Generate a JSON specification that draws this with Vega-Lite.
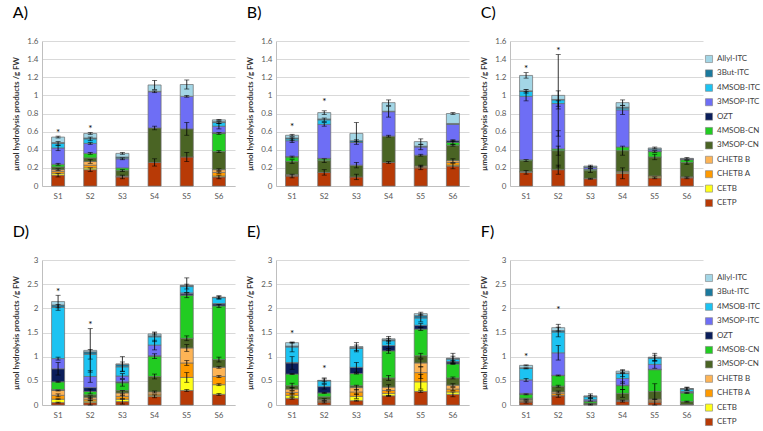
{
"$schema": "https://vega.github.io/schema/vega-lite/v6.json",
"padding": {"left": 12, "top": 5, "right": 2, "bottom": 2},
"spacing": 16,
"config": {
 "font": "Lato",
 "concat": {"spacing": 16},
 "view": {"stroke": null},
 "axis": {"labelFontSize": 8, "labelColor": "#595959", "ticks": false, "domainColor": "#BFBFBF", "gridColor": "#D9D9D9", "titleFontSize": 8, "titleColor": "#333333", "labelFont": "Lato", "titleFont": "Lato", "labelOverlap": false},
 "axisX": {"grid": false, "labelAngle": 0, "labelPadding": 6},
 "axisY": {"grid": true, "labelPadding": 4, "titleFontWeight": "bold", "titlePadding": 6, "format": ".1~f"},
 "title": {"fontSize": 16, "font": "Lato", "fontWeight": "normal", "anchor": "start", "offset": 16, "color": "#000000"},
 "legend": {"labelFontSize": 8, "labelColor": "#404040", "labelFont": "Lato", "symbolType": "square", "symbolSize": 50, "symbolStrokeColor": "#7f7f7f", "symbolStrokeWidth": 0.6, "rowPadding": 4.4, "offset": 2, "padding": 0, "titleFontSize": 10, "titlePadding": 4}
},
"datasets": {
 "cmp": [
  {"c":"CETP","k":0},{"c":"CETB","k":1},{"c":"CHETB A","k":2},{"c":"CHETB B","k":3},{"c":"3MSOP-CN","k":4},{"c":"4MSOB-CN","k":5},{"c":"OZT","k":6},{"c":"3MSOP-ITC","k":7},{"c":"4MSOB-ITC","k":8},{"c":"3But-ITC","k":9},{"c":"Allyl-ITC","k":10}
 ],
 "ast": [
  {"p":"A","s":"S1","y":0.58},{"p":"A","s":"S2","y":0.63},
  {"p":"B","s":"S1","y":0.65},{"p":"B","s":"S2","y":0.93},
  {"p":"C","s":"S1","y":1.29},{"p":"C","s":"S2","y":1.49},
  {"p":"D","s":"S1","y":2.33},{"p":"D","s":"S2","y":1.65},
  {"p":"E","s":"S1","y":1.47},{"p":"E","s":"S2","y":0.74},
  {"p":"F","s":"S1","y":1.0},{"p":"F","s":"S2","y":1.97}
 ],
 "bars": [
  {"p":"A","s":"S1","c":"CETP","v":0.12,"e":0.02},
  {"p":"A","s":"S1","c":"CETB","v":0.02},
  {"p":"A","s":"S1","c":"CHETB A","v":0.02},
  {"p":"A","s":"S1","c":"CHETB B","v":0.02,"e":0.01},
  {"p":"A","s":"S1","c":"3MSOP-CN","v":0.03},
  {"p":"A","s":"S1","c":"4MSOB-CN","v":0.03,"e":0.01},
  {"p":"A","s":"S1","c":"3MSOP-ITC","v":0.18,"e":0.03},
  {"p":"A","s":"S1","c":"4MSOB-ITC","v":0.05,"e":0.02},
  {"p":"A","s":"S1","c":"3But-ITC","v":0.01},
  {"p":"A","s":"S1","c":"Allyl-ITC","v":0.06,"e":0.01},
  {"p":"A","s":"S2","c":"CETP","v":0.18,"e":0.02},
  {"p":"A","s":"S2","c":"CETB","v":0.02},
  {"p":"A","s":"S2","c":"CHETB A","v":0.03},
  {"p":"A","s":"S2","c":"CHETB B","v":0.04,"e":0.02},
  {"p":"A","s":"S2","c":"3MSOP-CN","v":0.04},
  {"p":"A","s":"S2","c":"4MSOB-CN","v":0.05,"e":0.01},
  {"p":"A","s":"S2","c":"3MSOP-ITC","v":0.11,"e":0.01},
  {"p":"A","s":"S2","c":"4MSOB-ITC","v":0.05,"e":0.02},
  {"p":"A","s":"S2","c":"3But-ITC","v":0.01},
  {"p":"A","s":"S2","c":"Allyl-ITC","v":0.05,"e":0.01},
  {"p":"A","s":"S3","c":"CETP","v":0.10,"e":0.02},
  {"p":"A","s":"S3","c":"CHETB A","v":0.005},
  {"p":"A","s":"S3","c":"CHETB B","v":0.005},
  {"p":"A","s":"S3","c":"3MSOP-CN","v":0.06,"e":0.01},
  {"p":"A","s":"S3","c":"4MSOB-CN","v":0.03},
  {"p":"A","s":"S3","c":"3MSOP-ITC","v":0.10,"e":0.01},
  {"p":"A","s":"S3","c":"4MSOB-ITC","v":0.01},
  {"p":"A","s":"S3","c":"3But-ITC","v":0.01},
  {"p":"A","s":"S3","c":"Allyl-ITC","v":0.04,"e":0.01},
  {"p":"A","s":"S4","c":"CETP","v":0.26,"e":0.04},
  {"p":"A","s":"S4","c":"3MSOP-CN","v":0.38,"e":0.02},
  {"p":"A","s":"S4","c":"3MSOP-ITC","v":0.40,"e":0.01},
  {"p":"A","s":"S4","c":"3But-ITC","v":0.005},
  {"p":"A","s":"S4","c":"Allyl-ITC","v":0.07,"e":0.05},
  {"p":"A","s":"S5","c":"CETP","v":0.32,"e":0.05},
  {"p":"A","s":"S5","c":"3MSOP-CN","v":0.31,"e":0.07},
  {"p":"A","s":"S5","c":"3MSOP-ITC","v":0.36,"e":0.01},
  {"p":"A","s":"S5","c":"Allyl-ITC","v":0.13,"e":0.05},
  {"p":"A","s":"S6","c":"CETP","v":0.10,"e":0.02},
  {"p":"A","s":"S6","c":"CETB","v":0.01},
  {"p":"A","s":"S6","c":"CHETB A","v":0.04,"e":0.01},
  {"p":"A","s":"S6","c":"CHETB B","v":0.03,"e":0.01},
  {"p":"A","s":"S6","c":"3MSOP-CN","v":0.20,"e":0.01},
  {"p":"A","s":"S6","c":"4MSOB-CN","v":0.20,"e":0.01},
  {"p":"A","s":"S6","c":"OZT","v":0.01},
  {"p":"A","s":"S6","c":"3MSOP-ITC","v":0.07,"e":0.03},
  {"p":"A","s":"S6","c":"4MSOB-ITC","v":0.04,"e":0.01},
  {"p":"A","s":"S6","c":"3But-ITC","v":0.01},
  {"p":"A","s":"S6","c":"Allyl-ITC","v":0.02,"e":0.005},

  {"p":"B","s":"S1","c":"CETP","v":0.11,"e":0.02},
  {"p":"B","s":"S1","c":"CETB","v":0.005},
  {"p":"B","s":"S1","c":"CHETB A","v":0.005},
  {"p":"B","s":"S1","c":"CHETB B","v":0.005},
  {"p":"B","s":"S1","c":"3MSOP-CN","v":0.145,"e":0.02},
  {"p":"B","s":"S1","c":"4MSOB-CN","v":0.05,"e":0.01},
  {"p":"B","s":"S1","c":"OZT","v":0.005},
  {"p":"B","s":"S1","c":"3MSOP-ITC","v":0.175,"e":0.02},
  {"p":"B","s":"S1","c":"4MSOB-ITC","v":0.02,"e":0.02},
  {"p":"B","s":"S1","c":"3But-ITC","v":0.01},
  {"p":"B","s":"S1","c":"Allyl-ITC","v":0.03,"e":0.01},
  {"p":"B","s":"S2","c":"CETP","v":0.15,"e":0.03},
  {"p":"B","s":"S2","c":"3MSOP-CN","v":0.13,"e":0.02},
  {"p":"B","s":"S2","c":"4MSOB-CN","v":0.02},
  {"p":"B","s":"S2","c":"OZT","v":0.005},
  {"p":"B","s":"S2","c":"3MSOP-ITC","v":0.375,"e":0.02},
  {"p":"B","s":"S2","c":"4MSOB-ITC","v":0.05,"e":0.02},
  {"p":"B","s":"S2","c":"3But-ITC","v":0.01},
  {"p":"B","s":"S2","c":"Allyl-ITC","v":0.07,"e":0.02},
  {"p":"B","s":"S3","c":"CETP","v":0.10,"e":0.03},
  {"p":"B","s":"S3","c":"3MSOP-CN","v":0.13,"e":0.03},
  {"p":"B","s":"S3","c":"3MSOP-ITC","v":0.25},
  {"p":"B","s":"S3","c":"3But-ITC","v":0.02,"e":0.01},
  {"p":"B","s":"S3","c":"Allyl-ITC","v":0.08,"e":0.12},
  {"p":"B","s":"S4","c":"CETP","v":0.26,"e":0.01},
  {"p":"B","s":"S4","c":"3MSOP-CN","v":0.29,"e":0.01},
  {"p":"B","s":"S4","c":"3MSOP-ITC","v":0.27,"e":0.06},
  {"p":"B","s":"S4","c":"3But-ITC","v":0.005},
  {"p":"B","s":"S4","c":"Allyl-ITC","v":0.095,"e":0.03},
  {"p":"B","s":"S5","c":"CETP","v":0.20,"e":0.02},
  {"p":"B","s":"S5","c":"CHETB A","v":0.01},
  {"p":"B","s":"S5","c":"CHETB B","v":0.01,"e":0.01},
  {"p":"B","s":"S5","c":"3MSOP-CN","v":0.12,"e":0.01},
  {"p":"B","s":"S5","c":"3MSOP-ITC","v":0.09,"e":0.03},
  {"p":"B","s":"S5","c":"3But-ITC","v":0.01},
  {"p":"B","s":"S5","c":"Allyl-ITC","v":0.05,"e":0.03},
  {"p":"B","s":"S6","c":"CETP","v":0.22,"e":0.03},
  {"p":"B","s":"S6","c":"CETB","v":0.01},
  {"p":"B","s":"S6","c":"CHETB A","v":0.03},
  {"p":"B","s":"S6","c":"CHETB B","v":0.02,"e":0.02},
  {"p":"B","s":"S6","c":"3MSOP-CN","v":0.17,"e":0.01},
  {"p":"B","s":"S6","c":"4MSOB-CN","v":0.03,"e":0.02},
  {"p":"B","s":"S6","c":"OZT","v":0.02,"e":0.01},
  {"p":"B","s":"S6","c":"3MSOP-ITC","v":0.18},
  {"p":"B","s":"S6","c":"3But-ITC","v":0.01},
  {"p":"B","s":"S6","c":"Allyl-ITC","v":0.11,"e":0.01},

  {"p":"C","s":"S1","c":"CETP","v":0.15,"e":0.02},
  {"p":"C","s":"S1","c":"CETB","v":0.005},
  {"p":"C","s":"S1","c":"CHETB A","v":0.005},
  {"p":"C","s":"S1","c":"3MSOP-CN","v":0.12,"e":0.01},
  {"p":"C","s":"S1","c":"4MSOB-CN","v":0.01},
  {"p":"C","s":"S1","c":"3MSOP-ITC","v":0.70,"e":0.05},
  {"p":"C","s":"S1","c":"4MSOB-ITC","v":0.055,"e":0.02},
  {"p":"C","s":"S1","c":"3But-ITC","v":0.005},
  {"p":"C","s":"S1","c":"Allyl-ITC","v":0.17,"e":0.03},
  {"p":"C","s":"S2","c":"CETP","v":0.18,"e":0.05},
  {"p":"C","s":"S2","c":"3MSOP-CN","v":0.21,"e":0.05},
  {"p":"C","s":"S2","c":"4MSOB-CN","v":0.02,"e":0.2},
  {"p":"C","s":"S2","c":"3MSOP-ITC","v":0.50,"e":0.03},
  {"p":"C","s":"S2","c":"4MSOB-ITC","v":0.04,"e":0.1},
  {"p":"C","s":"S2","c":"3But-ITC","v":0.005},
  {"p":"C","s":"S2","c":"Allyl-ITC","v":0.045,"e":0.45},
  {"p":"C","s":"S3","c":"CETP","v":0.08,"e":0.005},
  {"p":"C","s":"S3","c":"CETB","v":0.005},
  {"p":"C","s":"S3","c":"3MSOP-CN","v":0.085,"e":0.02},
  {"p":"C","s":"S3","c":"4MSOB-CN","v":0.015},
  {"p":"C","s":"S3","c":"3MSOP-ITC","v":0.02,"e":0.01},
  {"p":"C","s":"S3","c":"4MSOB-ITC","v":0.005},
  {"p":"C","s":"S3","c":"Allyl-ITC","v":0.01,"e":0.01},
  {"p":"C","s":"S4","c":"CETP","v":0.14,"e":0.06},
  {"p":"C","s":"S4","c":"CETB","v":0.01},
  {"p":"C","s":"S4","c":"CHETB A","v":0.01},
  {"p":"C","s":"S4","c":"3MSOP-CN","v":0.23,"e":0.05},
  {"p":"C","s":"S4","c":"4MSOB-CN","v":0.04},
  {"p":"C","s":"S4","c":"3MSOP-ITC","v":0.41,"e":0.05},
  {"p":"C","s":"S4","c":"4MSOB-ITC","v":0.02},
  {"p":"C","s":"S4","c":"3But-ITC","v":0.01},
  {"p":"C","s":"S4","c":"Allyl-ITC","v":0.05,"e":0.03},
  {"p":"C","s":"S5","c":"CETP","v":0.09,"e":0.01},
  {"p":"C","s":"S5","c":"CETB","v":0.01},
  {"p":"C","s":"S5","c":"CHETB A","v":0.01},
  {"p":"C","s":"S5","c":"3MSOP-CN","v":0.21,"e":0.03},
  {"p":"C","s":"S5","c":"4MSOB-CN","v":0.06,"e":0.01},
  {"p":"C","s":"S5","c":"OZT","v":0.005},
  {"p":"C","s":"S5","c":"3MSOP-ITC","v":0.015},
  {"p":"C","s":"S5","c":"4MSOB-ITC","v":0.01},
  {"p":"C","s":"S5","c":"Allyl-ITC","v":0.01,"e":0.01},
  {"p":"C","s":"S6","c":"CETP","v":0.09,"e":0.01},
  {"p":"C","s":"S6","c":"CETB","v":0.005},
  {"p":"C","s":"S6","c":"CHETB A","v":0.005},
  {"p":"C","s":"S6","c":"3MSOP-CN","v":0.16,"e":0.02},
  {"p":"C","s":"S6","c":"4MSOB-CN","v":0.03},
  {"p":"C","s":"S6","c":"OZT","v":0.005},
  {"p":"C","s":"S6","c":"3MSOP-ITC","v":0.005},
  {"p":"C","s":"S6","c":"Allyl-ITC","v":0.005,"e":0.01},

  {"p":"D","s":"S1","c":"CETP","v":0.05,"e":0.01},
  {"p":"D","s":"S1","c":"CETB","v":0.07,"e":0.01},
  {"p":"D","s":"S1","c":"CHETB A","v":0.08,"e":0.03},
  {"p":"D","s":"S1","c":"CHETB B","v":0.10,"e":0.01},
  {"p":"D","s":"S1","c":"3MSOP-CN","v":0.02},
  {"p":"D","s":"S1","c":"4MSOB-CN","v":0.16,"e":0.01},
  {"p":"D","s":"S1","c":"OZT","v":0.27,"e":0.13},
  {"p":"D","s":"S1","c":"3MSOP-ITC","v":0.21,"e":0.03},
  {"p":"D","s":"S1","c":"4MSOB-ITC","v":1.06,"e":0.06},
  {"p":"D","s":"S1","c":"3But-ITC","v":0.05},
  {"p":"D","s":"S1","c":"Allyl-ITC","v":0.07,"e":0.13},
  {"p":"D","s":"S2","c":"CETP","v":0.05,"e":0.05},
  {"p":"D","s":"S2","c":"CETB","v":0.03},
  {"p":"D","s":"S2","c":"CHETB A","v":0.04,"e":0.03},
  {"p":"D","s":"S2","c":"CHETB B","v":0.04,"e":0.03},
  {"p":"D","s":"S2","c":"3MSOP-CN","v":0.05},
  {"p":"D","s":"S2","c":"4MSOB-CN","v":0.07,"e":0.05},
  {"p":"D","s":"S2","c":"OZT","v":0.08},
  {"p":"D","s":"S2","c":"3MSOP-ITC","v":0.23,"e":0.12},
  {"p":"D","s":"S2","c":"4MSOB-ITC","v":0.46,"e":0.1},
  {"p":"D","s":"S2","c":"3But-ITC","v":0.05},
  {"p":"D","s":"S2","c":"Allyl-ITC","v":0.03,"e":0.45},
  {"p":"D","s":"S3","c":"CETP","v":0.07,"e":0.05},
  {"p":"D","s":"S3","c":"CETB","v":0.05},
  {"p":"D","s":"S3","c":"CHETB A","v":0.06,"e":0.05},
  {"p":"D","s":"S3","c":"CHETB B","v":0.07,"e":0.05},
  {"p":"D","s":"S3","c":"3MSOP-CN","v":0.05},
  {"p":"D","s":"S3","c":"4MSOB-CN","v":0.16,"e":0.07},
  {"p":"D","s":"S3","c":"OZT","v":0.02},
  {"p":"D","s":"S3","c":"3MSOP-ITC","v":0.12,"e":0.05},
  {"p":"D","s":"S3","c":"4MSOB-ITC","v":0.19,"e":0.1},
  {"p":"D","s":"S3","c":"3But-ITC","v":0.05},
  {"p":"D","s":"S3","c":"Allyl-ITC","v":0.01,"e":0.15},
  {"p":"D","s":"S4","c":"CETP","v":0.18,"e":0.03},
  {"p":"D","s":"S4","c":"CETB","v":0.02},
  {"p":"D","s":"S4","c":"CHETB A","v":0.03},
  {"p":"D","s":"S4","c":"CHETB B","v":0.04,"e":0.02},
  {"p":"D","s":"S4","c":"3MSOP-CN","v":0.32,"e":0.05},
  {"p":"D","s":"S4","c":"4MSOB-CN","v":0.42,"e":0.05},
  {"p":"D","s":"S4","c":"OZT","v":0.01},
  {"p":"D","s":"S4","c":"3MSOP-ITC","v":0.22,"e":0.1},
  {"p":"D","s":"S4","c":"4MSOB-ITC","v":0.17,"e":0.1},
  {"p":"D","s":"S4","c":"3But-ITC","v":0.02},
  {"p":"D","s":"S4","c":"Allyl-ITC","v":0.04,"e":0.02},
  {"p":"D","s":"S5","c":"CETP","v":0.30,"e":0.02},
  {"p":"D","s":"S5","c":"CETB","v":0.27,"e":0.1},
  {"p":"D","s":"S5","c":"CHETB A","v":0.30,"e":0.05},
  {"p":"D","s":"S5","c":"CHETB B","v":0.31,"e":0.07},
  {"p":"D","s":"S5","c":"3MSOP-CN","v":0.20,"e":0.05},
  {"p":"D","s":"S5","c":"4MSOB-CN","v":0.89,"e":0.05},
  {"p":"D","s":"S5","c":"OZT","v":0.03},
  {"p":"D","s":"S5","c":"3MSOP-ITC","v":0.02},
  {"p":"D","s":"S5","c":"4MSOB-ITC","v":0.13,"e":0.05},
  {"p":"D","s":"S5","c":"3But-ITC","v":0.02},
  {"p":"D","s":"S5","c":"Allyl-ITC","v":0.01,"e":0.15},
  {"p":"D","s":"S6","c":"CETP","v":0.22,"e":0.02},
  {"p":"D","s":"S6","c":"CETB","v":0.20,"e":0.02},
  {"p":"D","s":"S6","c":"CHETB A","v":0.17,"e":0.02},
  {"p":"D","s":"S6","c":"CHETB B","v":0.19,"e":0.02},
  {"p":"D","s":"S6","c":"3MSOP-CN","v":0.16,"e":0.05},
  {"p":"D","s":"S6","c":"4MSOB-CN","v":1.11,"e":0.03},
  {"p":"D","s":"S6","c":"OZT","v":0.04},
  {"p":"D","s":"S6","c":"3MSOP-ITC","v":0.01},
  {"p":"D","s":"S6","c":"4MSOB-ITC","v":0.12,"e":0.03},
  {"p":"D","s":"S6","c":"3But-ITC","v":0.005},
  {"p":"D","s":"S6","c":"Allyl-ITC","v":0.005,"e":0.03},

  {"p":"E","s":"S1","c":"CETP","v":0.14,"e":0.02},
  {"p":"E","s":"S1","c":"CETB","v":0.06,"e":0.03},
  {"p":"E","s":"S1","c":"CHETB A","v":0.06,"e":0.03},
  {"p":"E","s":"S1","c":"CHETB B","v":0.07,"e":0.03},
  {"p":"E","s":"S1","c":"3MSOP-CN","v":0.07,"e":0.05},
  {"p":"E","s":"S1","c":"4MSOB-CN","v":0.24,"e":0.01},
  {"p":"E","s":"S1","c":"OZT","v":0.23,"e":0.13},
  {"p":"E","s":"S1","c":"3MSOP-ITC","v":0.01},
  {"p":"E","s":"S1","c":"4MSOB-ITC","v":0.32,"e":0.1},
  {"p":"E","s":"S1","c":"3But-ITC","v":0.02},
  {"p":"E","s":"S1","c":"Allyl-ITC","v":0.07,"e":0.01},
  {"p":"E","s":"S2","c":"CETP","v":0.06,"e":0.02},
  {"p":"E","s":"S2","c":"CETB","v":0.01},
  {"p":"E","s":"S2","c":"CHETB A","v":0.02},
  {"p":"E","s":"S2","c":"CHETB B","v":0.02,"e":0.02},
  {"p":"E","s":"S2","c":"3MSOP-CN","v":0.06},
  {"p":"E","s":"S2","c":"4MSOB-CN","v":0.08,"e":0.01},
  {"p":"E","s":"S2","c":"OZT","v":0.13,"e":0.05},
  {"p":"E","s":"S2","c":"4MSOB-ITC","v":0.12,"e":0.06},
  {"p":"E","s":"S2","c":"3But-ITC","v":0.005},
  {"p":"E","s":"S2","c":"Allyl-ITC","v":0.005,"e":0.03},
  {"p":"E","s":"S3","c":"CETP","v":0.09,"e":0.01},
  {"p":"E","s":"S3","c":"CETB","v":0.09,"e":0.05},
  {"p":"E","s":"S3","c":"CHETB A","v":0.09,"e":0.05},
  {"p":"E","s":"S3","c":"CHETB B","v":0.09,"e":0.05},
  {"p":"E","s":"S3","c":"3MSOP-CN","v":0.04},
  {"p":"E","s":"S3","c":"4MSOB-CN","v":0.25,"e":0.01},
  {"p":"E","s":"S3","c":"OZT","v":0.13,"e":0.1},
  {"p":"E","s":"S3","c":"4MSOB-ITC","v":0.39,"e":0.07},
  {"p":"E","s":"S3","c":"3But-ITC","v":0.02},
  {"p":"E","s":"S3","c":"Allyl-ITC","v":0.02,"e":0.08},
  {"p":"E","s":"S4","c":"CETP","v":0.19,"e":0.01},
  {"p":"E","s":"S4","c":"CETB","v":0.05,"e":0.05},
  {"p":"E","s":"S4","c":"CHETB A","v":0.06},
  {"p":"E","s":"S4","c":"CHETB B","v":0.07,"e":0.05},
  {"p":"E","s":"S4","c":"3MSOP-CN","v":0.19,"e":0.05},
  {"p":"E","s":"S4","c":"4MSOB-CN","v":0.56,"e":0.05},
  {"p":"E","s":"S4","c":"OZT","v":0.11,"e":0.1},
  {"p":"E","s":"S4","c":"4MSOB-ITC","v":0.10,"e":0.05},
  {"p":"E","s":"S4","c":"3But-ITC","v":0.02},
  {"p":"E","s":"S4","c":"Allyl-ITC","v":0.02,"e":0.05},
  {"p":"E","s":"S5","c":"CETP","v":0.28,"e":0.02},
  {"p":"E","s":"S5","c":"CETB","v":0.20,"e":0.15},
  {"p":"E","s":"S5","c":"CHETB A","v":0.19,"e":0.12},
  {"p":"E","s":"S5","c":"CHETB B","v":0.20,"e":0.08},
  {"p":"E","s":"S5","c":"3MSOP-CN","v":0.15,"e":0.05},
  {"p":"E","s":"S5","c":"4MSOB-CN","v":0.55,"e":0.03},
  {"p":"E","s":"S5","c":"OZT","v":0.08,"e":0.04},
  {"p":"E","s":"S5","c":"4MSOB-ITC","v":0.15,"e":0.08},
  {"p":"E","s":"S5","c":"3But-ITC","v":0.05},
  {"p":"E","s":"S5","c":"Allyl-ITC","v":0.04,"e":0.03},
  {"p":"E","s":"S6","c":"CETP","v":0.22,"e":0.05},
  {"p":"E","s":"S6","c":"CETB","v":0.05},
  {"p":"E","s":"S6","c":"CHETB A","v":0.06,"e":0.03},
  {"p":"E","s":"S6","c":"CHETB B","v":0.08,"e":0.03},
  {"p":"E","s":"S6","c":"3MSOP-CN","v":0.15,"e":0.02},
  {"p":"E","s":"S6","c":"4MSOB-CN","v":0.29,"e":0.01},
  {"p":"E","s":"S6","c":"OZT","v":0.04,"e":0.03},
  {"p":"E","s":"S6","c":"3MSOP-ITC","v":0.01},
  {"p":"E","s":"S6","c":"4MSOB-ITC","v":0.05,"e":0.06},
  {"p":"E","s":"S6","c":"3But-ITC","v":0.01},
  {"p":"E","s":"S6","c":"Allyl-ITC","v":0.01,"e":0.1},

  {"p":"F","s":"S1","c":"CETP","v":0.06,"e":0.02},
  {"p":"F","s":"S1","c":"CETB","v":0.01},
  {"p":"F","s":"S1","c":"CHETB A","v":0.02},
  {"p":"F","s":"S1","c":"CHETB B","v":0.02,"e":0.01},
  {"p":"F","s":"S1","c":"3MSOP-CN","v":0.03},
  {"p":"F","s":"S1","c":"4MSOB-CN","v":0.08,"e":0.01},
  {"p":"F","s":"S1","c":"OZT","v":0.02},
  {"p":"F","s":"S1","c":"3MSOP-ITC","v":0.28,"e":0.03},
  {"p":"F","s":"S1","c":"4MSOB-ITC","v":0.24,"e":0.01},
  {"p":"F","s":"S1","c":"3But-ITC","v":0.01},
  {"p":"F","s":"S1","c":"Allyl-ITC","v":0.05,"e":0.01},
  {"p":"F","s":"S2","c":"CETP","v":0.19,"e":0.03},
  {"p":"F","s":"S2","c":"CETB","v":0.01},
  {"p":"F","s":"S2","c":"CHETB A","v":0.04},
  {"p":"F","s":"S2","c":"CHETB B","v":0.03,"e":0.02},
  {"p":"F","s":"S2","c":"3MSOP-CN","v":0.12,"e":0.02},
  {"p":"F","s":"S2","c":"4MSOB-CN","v":0.22,"e":0.01},
  {"p":"F","s":"S2","c":"OZT","v":0.005},
  {"p":"F","s":"S2","c":"3MSOP-ITC","v":0.465,"e":0.15},
  {"p":"F","s":"S2","c":"4MSOB-ITC","v":0.43,"e":0.1},
  {"p":"F","s":"S2","c":"3But-ITC","v":0.03},
  {"p":"F","s":"S2","c":"Allyl-ITC","v":0.06,"e":0.07},
  {"p":"F","s":"S3","c":"CETP","v":0.01,"e":0.01},
  {"p":"F","s":"S3","c":"CETB","v":0.005},
  {"p":"F","s":"S3","c":"3MSOP-CN","v":0.025},
  {"p":"F","s":"S3","c":"4MSOB-CN","v":0.04},
  {"p":"F","s":"S3","c":"OZT","v":0.005},
  {"p":"F","s":"S3","c":"3MSOP-ITC","v":0.025,"e":0.03},
  {"p":"F","s":"S3","c":"4MSOB-ITC","v":0.06,"e":0.03},
  {"p":"F","s":"S3","c":"3But-ITC","v":0.005},
  {"p":"F","s":"S3","c":"Allyl-ITC","v":0.015,"e":0.04},
  {"p":"F","s":"S4","c":"CETP","v":0.08,"e":0.02},
  {"p":"F","s":"S4","c":"CETB","v":0.005},
  {"p":"F","s":"S4","c":"CHETB A","v":0.005},
  {"p":"F","s":"S4","c":"CHETB B","v":0.01},
  {"p":"F","s":"S4","c":"3MSOP-CN","v":0.14,"e":0.08},
  {"p":"F","s":"S4","c":"4MSOB-CN","v":0.16,"e":0.08},
  {"p":"F","s":"S4","c":"OZT","v":0.01},
  {"p":"F","s":"S4","c":"3MSOP-ITC","v":0.14,"e":0.1},
  {"p":"F","s":"S4","c":"4MSOB-ITC","v":0.10,"e":0.06},
  {"p":"F","s":"S4","c":"3But-ITC","v":0.01},
  {"p":"F","s":"S4","c":"Allyl-ITC","v":0.04,"e":0.03},
  {"p":"F","s":"S5","c":"CETP","v":0.06,"e":0.06},
  {"p":"F","s":"S5","c":"CETB","v":0.01},
  {"p":"F","s":"S5","c":"CHETB A","v":0.03},
  {"p":"F","s":"S5","c":"CHETB B","v":0.02},
  {"p":"F","s":"S5","c":"3MSOP-CN","v":0.16,"e":0.16},
  {"p":"F","s":"S5","c":"4MSOB-CN","v":0.45},
  {"p":"F","s":"S5","c":"OZT","v":0.01},
  {"p":"F","s":"S5","c":"3MSOP-ITC","v":0.10,"e":0.08},
  {"p":"F","s":"S5","c":"4MSOB-ITC","v":0.13,"e":0.06},
  {"p":"F","s":"S5","c":"3But-ITC","v":0.01},
  {"p":"F","s":"S5","c":"Allyl-ITC","v":0.01,"e":0.08},
  {"p":"F","s":"S6","c":"CETP","v":0.01},
  {"p":"F","s":"S6","c":"3MSOP-CN","v":0.06,"e":0.01},
  {"p":"F","s":"S6","c":"4MSOB-CN","v":0.18,"e":0.01},
  {"p":"F","s":"S6","c":"OZT","v":0.01},
  {"p":"F","s":"S6","c":"3MSOP-ITC","v":0.02},
  {"p":"F","s":"S6","c":"4MSOB-ITC","v":0.05,"e":0.03},
  {"p":"F","s":"S6","c":"3But-ITC","v":0.005},
  {"p":"F","s":"S6","c":"Allyl-ITC","v":0.005,"e":0.03}
 ]
},
"resolve": {"scale": {"color": "independent"}, "legend": {"color": "independent"}},
"vconcat": [
 {"hconcat": [
  {"title": "A)", "width": 193, "height": 145, "layer": [
   {"data": {"name": "bars"}, "transform": [{"filter": "datum.p == 'A'"}, {"lookup": "c", "from": {"data": {"name": "cmp"}, "key": "c", "fields": ["k"]}}],
    "mark": {"type": "bar", "width": {"band": 0.45}, "stroke": "#6b6b6b", "strokeWidth": 0.7},
    "encoding": {"x": {"field": "s", "type": "nominal", "title": null},
     "y": {"field": "v", "type": "quantitative", "stack": "zero", "title": "µmol hydrolysis products /g FW", "scale": {"domain": [0, 1.6]}, "axis": {"values": [0,0.2,0.4,0.6,0.8,1,1.2,1.4,1.6]}},
     "color": {"field": "c", "type": "nominal", "legend": null, "scale": {"domain": ["Allyl-ITC","3But-ITC","4MSOB-ITC","3MSOP-ITC","OZT","4MSOB-CN","3MSOP-CN","CHETB B","CHETB A","CETB","CETP"], "range": ["#A3D6E6","#1B7A9E","#1CC3F2","#6E6EF5","#0B1E5B","#22CC22","#4A6424","#FDB456","#FF9A00","#FFFF1A","#B83A06"]}},
     "order": {"field": "k", "type": "quantitative"}}},
   {"data": {"name": "bars"}, "transform": [{"filter": "datum.p == 'A'"}, {"lookup": "c", "from": {"data": {"name": "cmp"}, "key": "c", "fields": ["k"]}}, {"stack": "v", "groupby": ["s"], "sort": [{"field": "k", "order": "ascending"}], "as": ["y0", "y1"]}, {"filter": "datum.e > 0"}],
    "mark": {"type": "errorbar", "ticks": true, "color": "#000000", "size": 5, "thickness": 0.8},
    "encoding": {"x": {"field": "s", "type": "nominal", "title": null}, "y": {"field": "y1", "type": "quantitative", "title": "µmol hydrolysis products /g FW", "scale": {"domain": [0, 1.6]}, "axis": {"values": [0,0.2,0.4,0.6,0.8,1,1.2,1.4,1.6]}}, "yError": {"field": "e"}}},
   {"data": {"name": "ast"}, "transform": [{"filter": "datum.p == 'A'"}],
    "mark": {"type": "text", "text": "*", "fontSize": 10, "color": "#000000"},
    "encoding": {"x": {"field": "s", "type": "nominal", "title": null}, "y": {"field": "y", "type": "quantitative", "title": "µmol hydrolysis products /g FW", "scale": {"domain": [0, 1.6]}, "axis": {"values": [0,0.2,0.4,0.6,0.8,1,1.2,1.4,1.6]}}}}
  ]},
  {"title": "B)", "width": 193, "height": 145, "layer": [
   {"data": {"name": "bars"}, "transform": [{"filter": "datum.p == 'B'"}, {"lookup": "c", "from": {"data": {"name": "cmp"}, "key": "c", "fields": ["k"]}}],
    "mark": {"type": "bar", "width": {"band": 0.45}, "stroke": "#6b6b6b", "strokeWidth": 0.7},
    "encoding": {"x": {"field": "s", "type": "nominal", "title": null},
     "y": {"field": "v", "type": "quantitative", "stack": "zero", "title": "µmol hydrolysis products /g FW", "scale": {"domain": [0, 1.6]}, "axis": {"values": [0,0.2,0.4,0.6,0.8,1,1.2,1.4,1.6]}},
     "color": {"field": "c", "type": "nominal", "legend": null, "scale": {"domain": ["Allyl-ITC","3But-ITC","4MSOB-ITC","3MSOP-ITC","OZT","4MSOB-CN","3MSOP-CN","CHETB B","CHETB A","CETB","CETP"], "range": ["#A3D6E6","#1B7A9E","#1CC3F2","#6E6EF5","#0B1E5B","#22CC22","#4A6424","#FDB456","#FF9A00","#FFFF1A","#B83A06"]}},
     "order": {"field": "k", "type": "quantitative"}}},
   {"data": {"name": "bars"}, "transform": [{"filter": "datum.p == 'B'"}, {"lookup": "c", "from": {"data": {"name": "cmp"}, "key": "c", "fields": ["k"]}}, {"stack": "v", "groupby": ["s"], "sort": [{"field": "k", "order": "ascending"}], "as": ["y0", "y1"]}, {"filter": "datum.e > 0"}],
    "mark": {"type": "errorbar", "ticks": true, "color": "#000000", "size": 5, "thickness": 0.8},
    "encoding": {"x": {"field": "s", "type": "nominal", "title": null}, "y": {"field": "y1", "type": "quantitative", "title": "µmol hydrolysis products /g FW", "scale": {"domain": [0, 1.6]}, "axis": {"values": [0,0.2,0.4,0.6,0.8,1,1.2,1.4,1.6]}}, "yError": {"field": "e"}}},
   {"data": {"name": "ast"}, "transform": [{"filter": "datum.p == 'B'"}],
    "mark": {"type": "text", "text": "*", "fontSize": 10, "color": "#000000"},
    "encoding": {"x": {"field": "s", "type": "nominal", "title": null}, "y": {"field": "y", "type": "quantitative", "title": "µmol hydrolysis products /g FW", "scale": {"domain": [0, 1.6]}, "axis": {"values": [0,0.2,0.4,0.6,0.8,1,1.2,1.4,1.6]}}}}
  ]},
  {"title": "C)", "width": 193, "height": 145, "layer": [
   {"data": {"name": "bars"}, "transform": [{"filter": "datum.p == 'C'"}, {"lookup": "c", "from": {"data": {"name": "cmp"}, "key": "c", "fields": ["k"]}}],
    "mark": {"type": "bar", "width": {"band": 0.45}, "stroke": "#6b6b6b", "strokeWidth": 0.7},
    "encoding": {"x": {"field": "s", "type": "nominal", "title": null},
     "y": {"field": "v", "type": "quantitative", "stack": "zero", "title": "µmol hydrolysis products /g FW", "scale": {"domain": [0, 1.6]}, "axis": {"values": [0,0.2,0.4,0.6,0.8,1,1.2,1.4,1.6]}},
     "color": {"field": "c", "type": "nominal", "legend": {"title": " "}, "scale": {"domain": ["Allyl-ITC","3But-ITC","4MSOB-ITC","3MSOP-ITC","OZT","4MSOB-CN","3MSOP-CN","CHETB B","CHETB A","CETB","CETP"], "range": ["#A3D6E6","#1B7A9E","#1CC3F2","#6E6EF5","#0B1E5B","#22CC22","#4A6424","#FDB456","#FF9A00","#FFFF1A","#B83A06"]}},
     "order": {"field": "k", "type": "quantitative"}}},
   {"data": {"name": "bars"}, "transform": [{"filter": "datum.p == 'C'"}, {"lookup": "c", "from": {"data": {"name": "cmp"}, "key": "c", "fields": ["k"]}}, {"stack": "v", "groupby": ["s"], "sort": [{"field": "k", "order": "ascending"}], "as": ["y0", "y1"]}, {"filter": "datum.e > 0"}],
    "mark": {"type": "errorbar", "ticks": true, "color": "#000000", "size": 5, "thickness": 0.8},
    "encoding": {"x": {"field": "s", "type": "nominal", "title": null}, "y": {"field": "y1", "type": "quantitative", "title": "µmol hydrolysis products /g FW", "scale": {"domain": [0, 1.6]}, "axis": {"values": [0,0.2,0.4,0.6,0.8,1,1.2,1.4,1.6]}}, "yError": {"field": "e"}}},
   {"data": {"name": "ast"}, "transform": [{"filter": "datum.p == 'C'"}],
    "mark": {"type": "text", "text": "*", "fontSize": 10, "color": "#000000"},
    "encoding": {"x": {"field": "s", "type": "nominal", "title": null}, "y": {"field": "y", "type": "quantitative", "title": "µmol hydrolysis products /g FW", "scale": {"domain": [0, 1.6]}, "axis": {"values": [0,0.2,0.4,0.6,0.8,1,1.2,1.4,1.6]}}}}
  ]}
 ], "spacing": 11, "resolve": {"scale": {"color": "independent"}, "legend": {"color": "independent"}}},
 {"hconcat": [
  {"title": "D)", "width": 193, "height": 145, "layer": [
   {"data": {"name": "bars"}, "transform": [{"filter": "datum.p == 'D'"}, {"lookup": "c", "from": {"data": {"name": "cmp"}, "key": "c", "fields": ["k"]}}],
    "mark": {"type": "bar", "width": {"band": 0.45}, "stroke": "#6b6b6b", "strokeWidth": 0.7},
    "encoding": {"x": {"field": "s", "type": "nominal", "title": null},
     "y": {"field": "v", "type": "quantitative", "stack": "zero", "title": "µmol hydrolysis products /g FW", "scale": {"domain": [0, 3]}, "axis": {"values": [0,0.5,1,1.5,2,2.5,3]}},
     "color": {"field": "c", "type": "nominal", "legend": null, "scale": {"domain": ["Allyl-ITC","3But-ITC","4MSOB-ITC","3MSOP-ITC","OZT","4MSOB-CN","3MSOP-CN","CHETB B","CHETB A","CETB","CETP"], "range": ["#A3D6E6","#1B7A9E","#1CC3F2","#6E6EF5","#0B1E5B","#22CC22","#4A6424","#FDB456","#FF9A00","#FFFF1A","#B83A06"]}},
     "order": {"field": "k", "type": "quantitative"}}},
   {"data": {"name": "bars"}, "transform": [{"filter": "datum.p == 'D'"}, {"lookup": "c", "from": {"data": {"name": "cmp"}, "key": "c", "fields": ["k"]}}, {"stack": "v", "groupby": ["s"], "sort": [{"field": "k", "order": "ascending"}], "as": ["y0", "y1"]}, {"filter": "datum.e > 0"}],
    "mark": {"type": "errorbar", "ticks": true, "color": "#000000", "size": 5, "thickness": 0.8},
    "encoding": {"x": {"field": "s", "type": "nominal", "title": null}, "y": {"field": "y1", "type": "quantitative", "title": "µmol hydrolysis products /g FW", "scale": {"domain": [0, 3]}, "axis": {"values": [0,0.5,1,1.5,2,2.5,3]}}, "yError": {"field": "e"}}},
   {"data": {"name": "ast"}, "transform": [{"filter": "datum.p == 'D'"}],
    "mark": {"type": "text", "text": "*", "fontSize": 10, "color": "#000000"},
    "encoding": {"x": {"field": "s", "type": "nominal", "title": null}, "y": {"field": "y", "type": "quantitative", "title": "µmol hydrolysis products /g FW", "scale": {"domain": [0, 3]}, "axis": {"values": [0,0.5,1,1.5,2,2.5,3]}}}}
  ]},
  {"title": "E)", "width": 193, "height": 145, "layer": [
   {"data": {"name": "bars"}, "transform": [{"filter": "datum.p == 'E'"}, {"lookup": "c", "from": {"data": {"name": "cmp"}, "key": "c", "fields": ["k"]}}],
    "mark": {"type": "bar", "width": {"band": 0.45}, "stroke": "#6b6b6b", "strokeWidth": 0.7},
    "encoding": {"x": {"field": "s", "type": "nominal", "title": null},
     "y": {"field": "v", "type": "quantitative", "stack": "zero", "title": "µmol hydrolysis products /g FW", "scale": {"domain": [0, 3]}, "axis": {"values": [0,0.5,1,1.5,2,2.5,3]}},
     "color": {"field": "c", "type": "nominal", "legend": null, "scale": {"domain": ["Allyl-ITC","3But-ITC","4MSOB-ITC","3MSOP-ITC","OZT","4MSOB-CN","3MSOP-CN","CHETB B","CHETB A","CETB","CETP"], "range": ["#A3D6E6","#1B7A9E","#1CC3F2","#6E6EF5","#0B1E5B","#22CC22","#4A6424","#FDB456","#FF9A00","#FFFF1A","#B83A06"]}},
     "order": {"field": "k", "type": "quantitative"}}},
   {"data": {"name": "bars"}, "transform": [{"filter": "datum.p == 'E'"}, {"lookup": "c", "from": {"data": {"name": "cmp"}, "key": "c", "fields": ["k"]}}, {"stack": "v", "groupby": ["s"], "sort": [{"field": "k", "order": "ascending"}], "as": ["y0", "y1"]}, {"filter": "datum.e > 0"}],
    "mark": {"type": "errorbar", "ticks": true, "color": "#000000", "size": 5, "thickness": 0.8},
    "encoding": {"x": {"field": "s", "type": "nominal", "title": null}, "y": {"field": "y1", "type": "quantitative", "title": "µmol hydrolysis products /g FW", "scale": {"domain": [0, 3]}, "axis": {"values": [0,0.5,1,1.5,2,2.5,3]}}, "yError": {"field": "e"}}},
   {"data": {"name": "ast"}, "transform": [{"filter": "datum.p == 'E'"}],
    "mark": {"type": "text", "text": "*", "fontSize": 10, "color": "#000000"},
    "encoding": {"x": {"field": "s", "type": "nominal", "title": null}, "y": {"field": "y", "type": "quantitative", "title": "µmol hydrolysis products /g FW", "scale": {"domain": [0, 3]}, "axis": {"values": [0,0.5,1,1.5,2,2.5,3]}}}}
  ]},
  {"title": "F)", "width": 193, "height": 145, "layer": [
   {"data": {"name": "bars"}, "transform": [{"filter": "datum.p == 'F'"}, {"lookup": "c", "from": {"data": {"name": "cmp"}, "key": "c", "fields": ["k"]}}],
    "mark": {"type": "bar", "width": {"band": 0.45}, "stroke": "#6b6b6b", "strokeWidth": 0.7},
    "encoding": {"x": {"field": "s", "type": "nominal", "title": null},
     "y": {"field": "v", "type": "quantitative", "stack": "zero", "title": "µmol hydrolysis products /g FW", "scale": {"domain": [0, 3]}, "axis": {"values": [0,0.5,1,1.5,2,2.5,3]}},
     "color": {"field": "c", "type": "nominal", "legend": {"title": " "}, "scale": {"domain": ["Allyl-ITC","3But-ITC","4MSOB-ITC","3MSOP-ITC","OZT","4MSOB-CN","3MSOP-CN","CHETB B","CHETB A","CETB","CETP"], "range": ["#A3D6E6","#1B7A9E","#1CC3F2","#6E6EF5","#0B1E5B","#22CC22","#4A6424","#FDB456","#FF9A00","#FFFF1A","#B83A06"]}},
     "order": {"field": "k", "type": "quantitative"}}},
   {"data": {"name": "bars"}, "transform": [{"filter": "datum.p == 'F'"}, {"lookup": "c", "from": {"data": {"name": "cmp"}, "key": "c", "fields": ["k"]}}, {"stack": "v", "groupby": ["s"], "sort": [{"field": "k", "order": "ascending"}], "as": ["y0", "y1"]}, {"filter": "datum.e > 0"}],
    "mark": {"type": "errorbar", "ticks": true, "color": "#000000", "size": 5, "thickness": 0.8},
    "encoding": {"x": {"field": "s", "type": "nominal", "title": null}, "y": {"field": "y1", "type": "quantitative", "title": "µmol hydrolysis products /g FW", "scale": {"domain": [0, 3]}, "axis": {"values": [0,0.5,1,1.5,2,2.5,3]}}, "yError": {"field": "e"}}},
   {"data": {"name": "ast"}, "transform": [{"filter": "datum.p == 'F'"}],
    "mark": {"type": "text", "text": "*", "fontSize": 10, "color": "#000000"},
    "encoding": {"x": {"field": "s", "type": "nominal", "title": null}, "y": {"field": "y", "type": "quantitative", "title": "µmol hydrolysis products /g FW", "scale": {"domain": [0, 3]}, "axis": {"values": [0,0.5,1,1.5,2,2.5,3]}}}}
  ]}
 ], "spacing": 11, "resolve": {"scale": {"color": "independent"}, "legend": {"color": "independent"}}}
]
}
